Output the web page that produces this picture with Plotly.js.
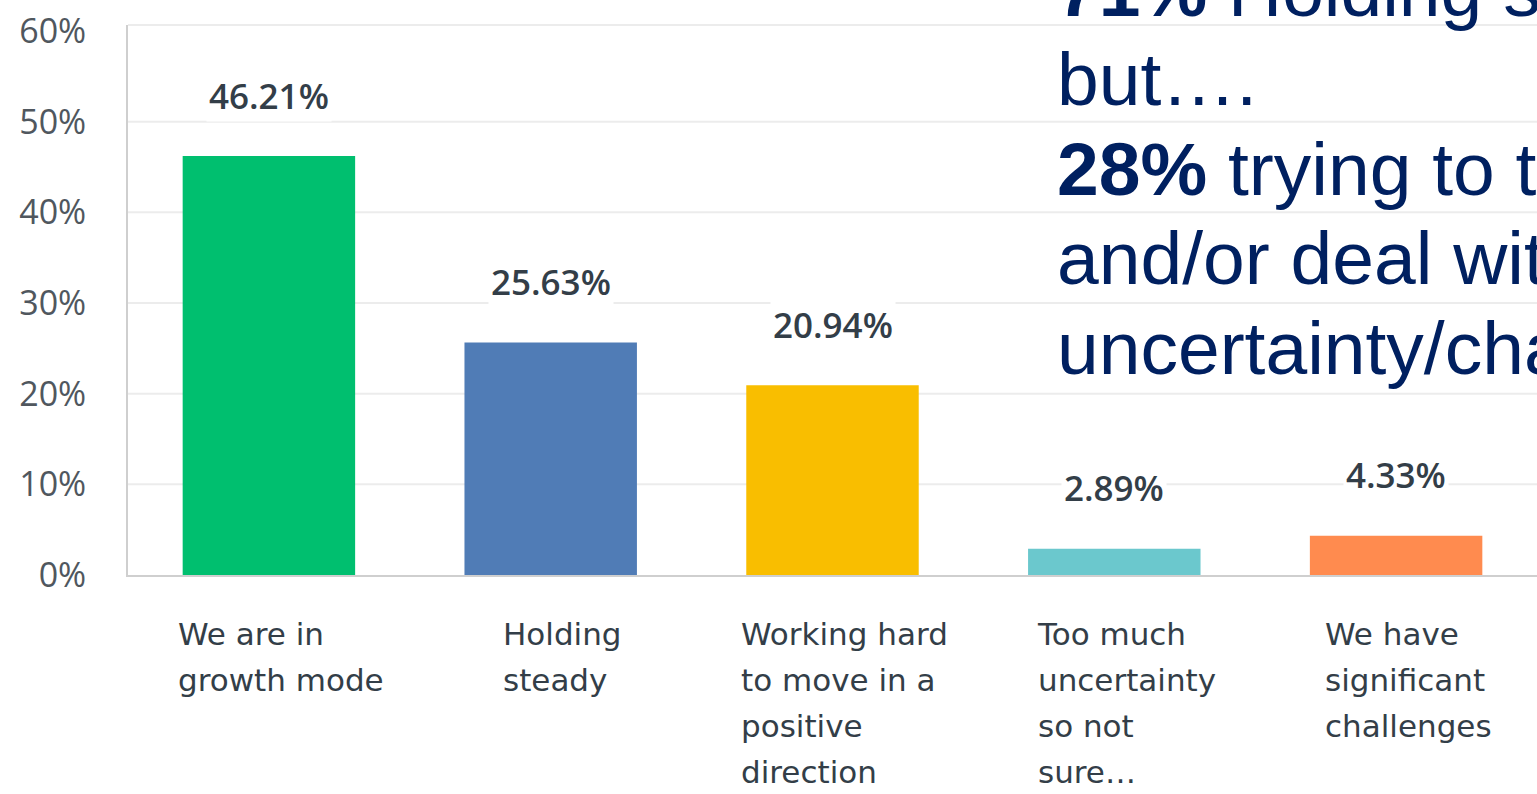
<!DOCTYPE html>
<html>
<head>
<meta charset="utf-8">
<script src="https://cdn.plot.ly/plotly-3.0.1.min.js"></script>
<style>
html,body{margin:0;padding:0;background:#fff;overflow:hidden;}
#chart{width:1537px;height:794px;}
</style>
</head>
<body>
<div id="chart"></div>
<script>
// ---- data ----
const categories = ["growth", "steady", "positive", "uncertain", "challenges"];
const categoryLabels = [
  ["We are in", "growth mode"],
  ["Holding", "steady"],
  ["Working hard", "to move in a", "positive", "direction"],
  ["Too much", "uncertainty", "so not", "sure…"],
  ["We have", "significant", "challenges"]
];
const values = [46.21, 25.63, 20.94, 2.89, 4.33];
const valueLabels = ["46.21%", "25.63%", "20.94%", "2.89%", "4.33%"];
const barColors = ["#00bf6f", "#507cb6", "#f9be00", "#6bc8cd", "#ff8b4f"];
const yTickVals = [0, 10, 20, 30, 40, 50, 60];
const yTickText = ["0%", "10%", "20%", "30%", "40%", "50%", "60%"];
const overlayLines = [
  "<b>71%</b> Holding steady",
  "but….",
  "<b>28%</b> trying to turn",
  "and/or deal with",
  "uncertainty/challenges"
];

// ---- layout helpers (pixel geometry of the plot area) ----
const W = 1537, H = 794;
const M = {l: 128, r: 0, t: 25, b: 219};
const plotH = H - M.t - M.b;
const plotW = W - M.l - M.r;
const pyPaper = p => (H - M.b - p) / plotH;
const pxPaper = p => (p - M.l) / plotW;

const annotations = [];
// value labels above bars
values.forEach((v, i) => {
  annotations.push({
    x: categories[i], y: v, xref: "x", yref: "y",
    text: valueLabels[i], showarrow: false,
    yanchor: "middle", yshift: 61,
    bgcolor: "#ffffff", borderpad: 2,
    font: {family: "Open Sans", size: 35, color: "#333e48", weight: 600}
  });
});
// category labels
categoryLabels.forEach((lines, i) => {
  annotations.push({
    x: categories[i], y: 0, xref: "x", yref: "paper",
    text: lines.join("<br>"), showarrow: false,
    xanchor: "center", align: "left", yanchor: "top",
    xshift: 12, yshift: -39,
    font: {family: "DejaVu Sans", size: 31, color: "#333e48"}
  });
});
// overlay text lines
const overlayBaselines = [16, 105, 195, 284, 374];
overlayLines.forEach((t, i) => {
  annotations.push({
    x: pxPaper(1055), y: pyPaper(overlayBaselines[i] - 26), xref: "paper", yref: "paper",
    text: t, showarrow: false, xanchor: "left", yanchor: "middle", align: "left",
    font: {family: "Liberation Sans", size: 75, color: "#002060"}
  });
});

// horizontal gridlines (10%..50%) plus the top frame line
const shapes = yTickVals.filter(v => v > 0 && v < 60).map(v => ({
  type: "line", xref: "paper", yref: "y", x0: 0, x1: 1, y0: v, y1: v,
  layer: "below", line: {color: "#ececec", width: 2}
}));
shapes.push({
  type: "line", xref: "paper", yref: "paper", x0: 0, x1: 1, y0: 1, y1: 1,
  layer: "below", line: {color: "#ececec", width: 2}
});

const trace = {
  type: "bar",
  x: categories,
  y: values,
  marker: {color: barColors, line: {width: 0}},
  width: 0.612,
  hoverinfo: "skip"
};

const layout = {
  width: W, height: H,
  margin: M,
  paper_bgcolor: "#ffffff",
  plot_bgcolor: "#ffffff",
  showlegend: false,
  xaxis: {
    type: "category",
    range: [-0.5, 4.5],
    showticklabels: false,
    showgrid: false,
    showline: true, linecolor: "#cfcfcf", linewidth: 2,
    zeroline: false, ticks: ""
  },
  yaxis: {
    range: [0, 60.66],
    tickvals: yTickVals, ticktext: yTickText,
    showgrid: false,
    showline: true, linecolor: "#cfcfcf", linewidth: 2,
    zeroline: false, ticks: "",
    ticklabelstandoff: 33,
    tickfont: {family: "Open Sans", size: 34, color: "#50575e"}
  },
  shapes: shapes,
  annotations: annotations
};

Plotly.newPlot("chart", [trace], layout, {displayModeBar: false, staticPlot: true}).then(gd => {
  // widen line spacing of the multi-line category labels
  const spacing = 46 / 31;
  gd.querySelectorAll(".annotation-text").forEach(t => {
    const lines = t.querySelectorAll("tspan.line");
    if (lines.length > 1 && t.style.fontFamily.indexOf("DejaVu") >= 0) {
      lines.forEach((ln, k) => ln.setAttribute("dy", (k * spacing) + "em"));
    }
  });
});
</script>
</body>
</html>
